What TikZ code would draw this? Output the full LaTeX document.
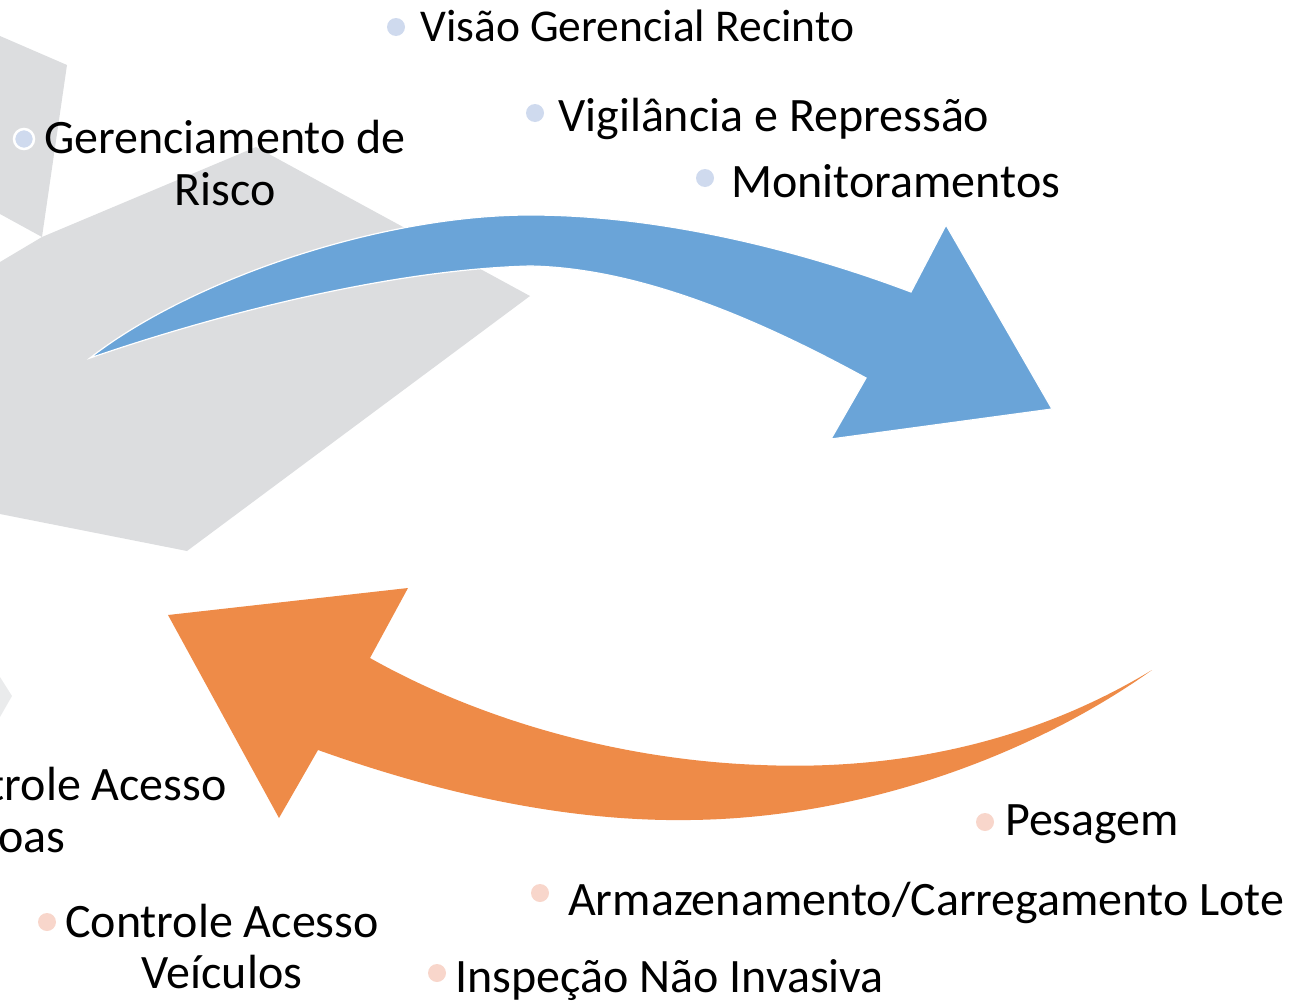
\documentclass[tikz,border=0pt]{standalone}
\usepackage{fontspec}
\setmainfont{Carlito}
\definecolor{shapegray}{RGB}{220,221,223}
\definecolor{shapegraylight}{RGB}{234,235,236}
\definecolor{arrowblue}{RGB}{106,164,216}
\definecolor{arroworange}{RGB}{238,139,72}
\definecolor{dotblue}{RGB}{207,218,238}
\definecolor{dotorange}{RGB}{248,214,203}
\begin{document}
\begin{tikzpicture}[x=1pt,y=-1pt,
  lbl/.style={anchor=base west,inner sep=0pt,font=\fontsize{48}{52}\selectfont},
  lblc/.style={anchor=base,inner sep=0pt,font=\fontsize{48}{52}\selectfont},
  dotb/.style={circle,fill=dotblue,inner sep=0pt,minimum size=18pt},
  doto/.style={circle,fill=dotorange,inner sep=0pt,minimum size=18pt},
  grayshape/.style={fill=shapegray,draw=none}]
\useasboundingbox (0,0) rectangle (1291,1004);
\clip (0,0) rectangle (1291,1004);
% background gray shapes
\fill[grayshape] (0,36) -- (67,65) -- (42,237) -- (0,214) -- cycle;
\fill[grayshape] (0,262) -- (42,237) -- (256,147) -- (530,296) -- (187,551) -- (0,514) -- cycle;
\fill[shapegraylight] (0,677) -- (12,696) -- (0,717) -- cycle;
% blue arrow
\filldraw[fill=arrowblue,draw=white,line width=1.2pt,line join=miter]
  (90,358) .. controls (190,280) and (380,215) .. (530,215)
  .. controls (660,215) and (800,250) .. (911,292)
  -- (946,225) -- (1052,409) -- (831,439) -- (866,378)
  .. controls (760,320) and (640,268) .. (530,266)
  .. controls (380,270) and (200,320) .. (90,358) -- cycle;
% orange arrow
\fill[arroworange]
  (1152,670) .. controls (1020,750) and (880,770) .. (761,765)
  .. controls (620,760) and (480,720) .. (370,658)
  -- (408,588) -- (168,615) -- (279,818) -- (318,750)
  .. controls (430,790) and (560,822) .. (690,820)
  .. controls (870,818) and (1040,750) .. (1152,670) -- cycle;
% top labels
\node[dotb] (d1) at (396,27) {};
\node[lbl,font=\fontsize{45.5}{52}\selectfont] (t1) at (420,41) {Visão Gerencial Recinto};
\node[dotb] (d2) at (535,113) {};
\node[lbl] (t2) at (558,131) {Vigilância e Repressão};
\node[dotb] (d3) at (705,178) {};
\node[lbl] (t3) at (731,197) {Monitoramentos};
\node[dotb,draw=white,line width=2.5pt,minimum size=20pt] (d4) at (24,139) {};
\node[lblc] (t4a) at (225,153) {Gerenciamento de};
\node[lblc] (t4b) at (225,205) {Risco};
% bottom labels
\node[lbl] (t5a) at (-87,800) {Controle Acesso};
\node[lbl] (t5b) at (-87,852) {Pessoas};
\node[doto] (d6) at (47,922) {};
\node[lblc] (t6a) at (222,937) {Controle Acesso};
\node[lblc] (t6b) at (222,988) {Veículos};
\node[doto] (d7) at (985,822) {};
\node[lbl] (t7) at (1005,835) {Pesagem};
\node[doto] (d8) at (540,893) {};
\node[lbl] (t8) at (568,915) {Armazenamento/Carregamento Lote};
\node[doto] (d9) at (437,973) {};
\node[lbl] (t9) at (455,992) {Inspeção Não Invasiva};
\end{tikzpicture}
\end{document}
